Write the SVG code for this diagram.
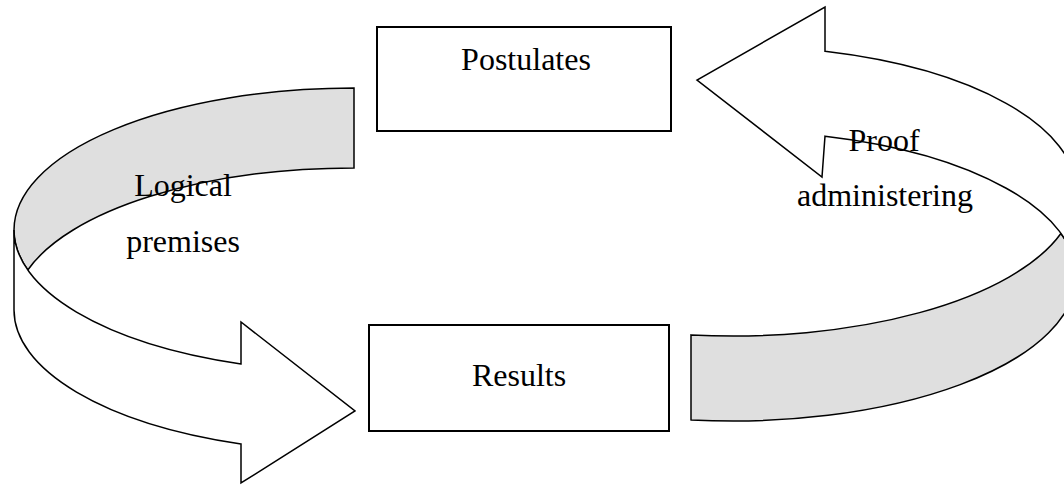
<svg xmlns="http://www.w3.org/2000/svg" width="1064" height="487" viewBox="0 0 1064 487">
  <style>
    .box { fill: #ffffff; stroke: #000000; stroke-width: 2; }
    .back { fill: #dfdfdf; stroke: #000000; stroke-width: 1.5; stroke-linejoin: miter; }
    .front { fill: #ffffff; stroke: #000000; stroke-width: 1.5; stroke-linejoin: miter; }
    .lbl { font-family: "Liberation Serif", "Times New Roman", serif; font-size: 32px; fill: #000000; text-anchor: middle; }
  </style>
  <rect width="1064" height="487" fill="#ffffff"/>
  <g id="connectors">
    <g id="arrow-logical-premises">
      <path class="back" d="M 354,88 A 340 142 0 0 0 14,230 A 340 142 0 0 0 27.77,270 A 340 142 0 0 1 354,168 Z"/>
      <path class="front" d="M 14,230 A 340 142 0 0 0 241,363.93 L 241,322 L 355,411 L 241,483 L 241,443.93 A 340 142 0 0 1 14,310 Z"/>
    </g>
    <g id="arrow-proof-administering">
      <path class="back" d="M 691,334.9 L 691,419.9 A 343 145 0 0 0 1076,276 A 343 145 0 0 0 1060.9,233.5 A 343 145 0 0 1 691,334.9 Z"/>
      <path class="front" d="M 1076,191 A 343 145 0 0 0 825,51.3 L 825,7 L 697,80 L 822,177 L 825,136.2 A 343 145 0 0 1 1076,276 Z"/>
    </g>
    <g id="labels">
      <text class="lbl" x="183" y="196">Logical</text>
      <text class="lbl" x="183" y="252">premises</text>
      <text class="lbl" x="884" y="151">Proof</text>
      <text class="lbl" x="885" y="206">administering</text>
    </g>
  </g>
  <g id="node-postulates">
    <rect class="box" x="377" y="27" width="294" height="104"/>
    <text class="lbl" x="526" y="70">Postulates</text>
  </g>
  <g id="node-results">
    <rect class="box" x="369" y="325" width="300" height="106"/>
    <text class="lbl" x="519" y="386">Results</text>
  </g>
</svg>
